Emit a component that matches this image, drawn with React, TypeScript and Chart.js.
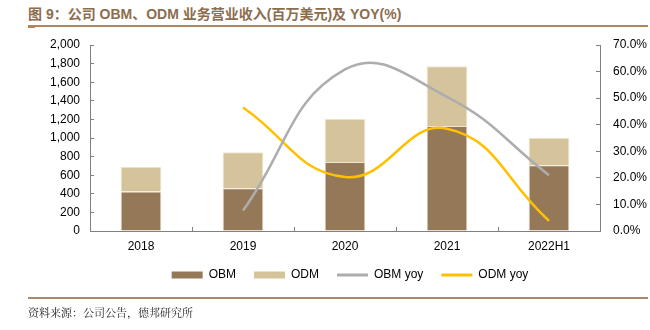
import React, { useEffect, useRef } from "react";
import { Chart, registerables } from "chart.js";

Chart.register(...registerables);

const categories = ["2018", "2019", "2020", "2021", "2022H1"];
const obmRevenue = [425, 460, 742, 1130, 707];
const odmRevenue = [265, 388, 465, 642, 296];
const obmYoy = [null, 7.7, 60.8, 50.5, 21.0];
const odmYoy = [null, 46.5, 20.3, 38.5, 3.8];
const leftTicks = [0, 200, 400, 600, 800, 1000, 1200, 1400, 1600, 1800, 2000];
const rightTicks = [0, 10, 20, 30, 40, 50, 60, 70];

const FONT = "'Liberation Sans', Arial, sans-serif";

export default function App() {
  const ref = useRef<HTMLCanvasElement | null>(null);

  useEffect(() => {
    if (!ref.current) return;
    const chart = new Chart(ref.current, {
      type: "bar",
      data: {
        labels: categories,
        datasets: [
          {
            type: "line",
            label: "OBM yoy",
            data: obmYoy,
            yAxisID: "y1",
            borderColor: "#ADADAD",
            backgroundColor: "#ADADAD",
            borderWidth: 2.5,
            pointRadius: 0,
            tension: 0.45,
            order: 0,
          },
          {
            type: "line",
            label: "ODM yoy",
            data: odmYoy,
            yAxisID: "y1",
            borderColor: "#FFC000",
            backgroundColor: "#FFC000",
            borderWidth: 2.5,
            pointRadius: 0,
            tension: 0.45,
            order: 0,
          },
          {
            type: "bar",
            label: "OBM",
            data: obmRevenue,
            yAxisID: "y",
            backgroundColor: "#957858",
            borderColor: "#EFE6D3",
            borderWidth: 1,
            stack: "s",
            order: 1,
          },
          {
            type: "bar",
            label: "ODM",
            data: odmRevenue,
            yAxisID: "y",
            backgroundColor: "#D5C49B",
            borderColor: "#EFE6D3",
            borderWidth: 1,
            stack: "s",
            order: 1,
          },
        ],
      },
      options: {
        animation: false,
        responsive: false,
        maintainAspectRatio: false,
        layout: { padding: { top: 45, left: 50, right: 0, bottom: 39 } },
        datasets: { bar: { categoryPercentage: 1, barPercentage: 0.4 } },
        plugins: {
          tooltip: { enabled: false },
          legend: {
            position: "bottom",
            labels: {
              font: { family: FONT, size: 12 },
              color: "#000",
              usePointStyle: true,
              pointStyleWidth: 31,
              boxHeight: 7,
              padding: 18,
              generateLabels: (c: any) => {
                const order = [2, 3, 0, 1];
                return order.map((i) => {
                  const ds = c.data.datasets[i];
                  const isLine = ds.type === "line";
                  return {
                    text: ds.label,
                    fillStyle: ds.backgroundColor,
                    strokeStyle: isLine ? ds.borderColor : ds.backgroundColor,
                    lineWidth: isLine ? 3 : 0,
                    pointStyle: isLine ? "line" : "rect",
                    hidden: false,
                    datasetIndex: i,
                    fontColor: "#000",
                  };
                });
              },
            },
          },
        },
        scales: {
          x: {
            stacked: true,
            grid: { display: true, drawOnChartArea: false, drawTicks: true, tickLength: -4, color: "#808080", offset: true },
            border: { display: true, color: "#808080", width: 1 },
            ticks: { font: { family: FONT, size: 12 }, color: "#000", padding: 12 },
            afterFit: (s: any) => { s.height = 20; },
          },
          y: {
            stacked: true,
            position: "left",
            min: 0,
            max: 2000,
            afterBuildTicks: (s: any) => { s.ticks = leftTicks.map((v) => ({ value: v })); },
            grid: { display: true, drawOnChartArea: false, drawTicks: true, tickLength: -4, color: "#808080" },
            border: { display: true, color: "#808080", width: 1 },
            ticks: {
              font: { family: FONT, size: 12 },
              color: "#000",
              padding: 14,
              callback: (v: any) => Number(v).toLocaleString("en-US"),
            },
            afterFit: (s: any) => { s.width = 40; },
          },
          y1: {
            position: "right",
            min: 0,
            max: 70,
            afterBuildTicks: (s: any) => { s.ticks = rightTicks.map((v) => ({ value: v })); },
            grid: { display: true, drawOnChartArea: false, drawTicks: true, tickLength: -4, color: "#808080" },
            border: { display: true, color: "#808080", width: 1 },
            ticks: {
              font: { family: FONT, size: 12 },
              color: "#000",
              padding: 17,
              callback: (v: any) => Number(v).toFixed(1) + "%",
            },
            afterFit: (s: any) => { s.width = 50; },
          },
        },
      },
    });
    return () => chart.destroy();
  }, []);

  return (
    <div style={{ position: "absolute", left: 0, top: 0, width: 650, height: 330, background: "#fff", overflow: "hidden" }}>
      <div
        style={{
          position: "absolute",
          left: 28,
          top: 3,
          fontFamily: "'Liberation Sans', 'Noto Sans CJK SC', sans-serif",
          fontWeight: "bold",
          fontSize: 14,
          color: "#8C6D4E",
          whiteSpace: "nowrap",
        }}
      >
        图 9：公司 OBM、ODM 业务营业收入(百万美元)及 YOY(%)
      </div>
      <div style={{ position: "absolute", left: 28, top: 25, width: 620, height: 1.5, background: "#B08660" }} />
      <div style={{ position: "absolute", left: 28, top: 26, width: 7, height: 1.5, background: "#B08660" }} />
      <canvas ref={ref} width={650} height={330} style={{ position: "absolute", left: 0, top: 0, width: 650, height: 330 }} />
      <div style={{ position: "absolute", left: 28, top: 297, width: 620, height: 2, background: "#A58A6C" }} />
      <div
        style={{
          position: "absolute",
          left: 28,
          top: 304,
          fontFamily: "'Noto Serif CJK SC', 'Noto Sans CJK SC', serif",
          fontSize: 11,
          color: "#222",
          whiteSpace: "nowrap",
        }}
      >
        资料来源：公司公告，德邦研究所
      </div>
    </div>
  );
}
